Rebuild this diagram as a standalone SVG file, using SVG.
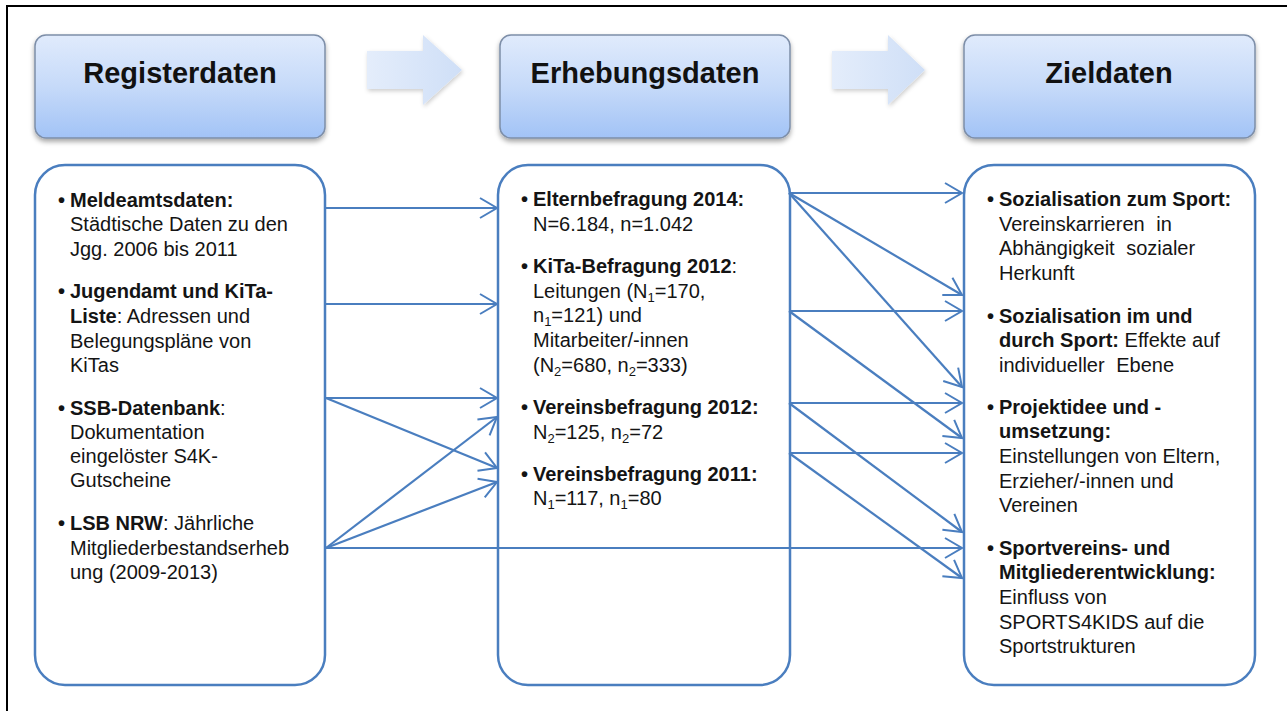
<svg xmlns="http://www.w3.org/2000/svg" width="1287" height="711" viewBox="0 0 1287 711">
<defs>
<linearGradient id="hg" x1="0" y1="0" x2="0" y2="1">
<stop offset="0" stop-color="#e0ebfc"/>
<stop offset="0.5" stop-color="#c6daf9"/>
<stop offset="1" stop-color="#a2c3f6"/>
</linearGradient>
<linearGradient id="ag" x1="0" y1="0" x2="1" y2="0">
<stop offset="0" stop-color="#e4edfb"/>
<stop offset="1" stop-color="#cfdff7"/>
</linearGradient>
<filter id="sh" x="-10%" y="-10%" width="120%" height="130%">
<feDropShadow dx="0" dy="3" stdDeviation="2.5" flood-color="#000" flood-opacity="0.35"/>
</filter>
<filter id="sh2" x="-10%" y="-10%" width="130%" height="130%">
<feDropShadow dx="1" dy="2" stdDeviation="2" flood-color="#000" flood-opacity="0.2"/>
</filter>
<marker id="ah" viewBox="-20 -12 22 24" refX="0" refY="0" markerWidth="22" markerHeight="24" markerUnits="userSpaceOnUse" orient="auto">
<path d="M-17,-10 L0,0 L-17,10" fill="none" stroke="#4a7ebf" stroke-width="2"/>
</marker>
</defs>
<style>
.hd{fill:url(#hg);stroke:#7d8ea8;stroke-width:1.5;filter:url(#sh)}
.ht{font-family:"Liberation Sans",Arial,sans-serif;font-weight:bold;font-size:29px;fill:#111;text-anchor:middle}
.ba{fill:url(#ag);filter:url(#sh2)}
.bx{fill:#fff;stroke:#4a7ebf;stroke-width:2.5}
.t{font-family:"Liberation Sans",Arial,sans-serif;font-size:20px;fill:#141414}
.b{font-weight:bold}
.cn line{stroke:#4a7ebf;stroke-width:2.2;marker-end:url(#ah)}
</style>
<rect x="0" y="0" width="1287" height="711" fill="#fff"/>
<rect x="7" y="6" width="1300" height="720" fill="none" stroke="#000" stroke-width="2"/>

<g id="head-registerdaten">
<rect class="hd" x="35" y="35" width="290" height="103" rx="11"/>
<text class="ht" x="180" y="83">Registerdaten</text>
</g>
<g id="flow-arrow-1">
<polygon class="ba" points="367,51 423,51 423,35 462,70 423,105 423,89 367,89"/>
</g>
<g id="head-erhebungsdaten">
<rect class="hd" x="500" y="35" width="290" height="103" rx="11"/>
<text class="ht" x="645" y="83">Erhebungsdaten</text>
</g>
<g id="flow-arrow-2">
<polygon class="ba" points="832,51 888,51 888,35 925,70 888,105 888,89 832,89"/>
</g>
<g id="head-zieldaten">
<rect class="hd" x="964" y="35" width="291" height="103" rx="11"/>
<text class="ht" x="1109" y="83">Zieldaten</text>
</g>

<g id="node-register">
<rect class="bx" x="35" y="165" width="290" height="520" rx="30"/>
<g class="t">
<text x="58" y="207" class="b">•</text>
<text x="70" y="207" class="b">Meldeamtsdaten:</text>
<text x="70" y="231">Städtische Daten zu den</text>
<text x="70" y="256">Jgg. 2006 bis 2011</text>
<text x="58" y="298" class="b">•</text>
<text x="70" y="298" class="b">Jugendamt und KiTa-</text>
<text x="70" y="323"><tspan class="b">Liste</tspan>: Adressen und</text>
<text x="70" y="348">Belegungspläne von</text>
<text x="70" y="372">KiTas</text>
<text x="58" y="415" class="b">•</text>
<text x="70" y="415"><tspan class="b">SSB-Datenbank</tspan>:</text>
<text x="70" y="439">Dokumentation</text>
<text x="70" y="463">eingelöster S4K-</text>
<text x="70" y="487">Gutscheine</text>
<text x="58" y="530" class="b">•</text>
<text x="70" y="530"><tspan class="b">LSB NRW</tspan>: Jährliche</text>
<text x="70" y="555">Mitgliederbestandserheb</text>
<text x="70" y="579">ung (2009-2013)</text>
</g>
</g>

<g id="node-erhebung">
<rect class="bx" x="498" y="165" width="292" height="520" rx="30"/>
<g class="t">
<text x="521" y="206" class="b">•</text>
<text x="533" y="206" class="b">Elternbefragung 2014:</text>
<text x="533" y="231">N=6.184, n=1.042</text>
<text x="521" y="273" class="b">•</text>
<text x="533" y="273"><tspan class="b">KiTa-Befragung 2012</tspan>:</text>
<text x="533" y="298">Leitungen (N<tspan dy="4" font-size="13">1</tspan><tspan dy="-4">=170,</tspan></text>
<text x="533" y="322">n<tspan dy="4" font-size="13">1</tspan><tspan dy="-4">=121) und</tspan></text>
<text x="533" y="347">Mitarbeiter/-innen</text>
<text x="533" y="372">(N<tspan dy="4" font-size="13">2</tspan><tspan dy="-4">=680, n</tspan><tspan dy="4" font-size="13">2</tspan><tspan dy="-4">=333)</tspan></text>
<text x="521" y="414" class="b">•</text>
<text x="533" y="414" class="b">Vereinsbefragung 2012:</text>
<text x="533" y="439">N<tspan dy="4" font-size="13">2</tspan><tspan dy="-4">=125, n</tspan><tspan dy="4" font-size="13">2</tspan><tspan dy="-4">=72</tspan></text>
<text x="521" y="481" class="b">•</text>
<text x="533" y="481" class="b">Vereinsbefragung 2011:</text>
<text x="533" y="505">N<tspan dy="4" font-size="13">1</tspan><tspan dy="-4">=117, n</tspan><tspan dy="4" font-size="13">1</tspan><tspan dy="-4">=80</tspan></text>
</g>
</g>

<g id="node-ziel">
<rect class="bx" x="964" y="165" width="291" height="520" rx="30"/>
<g class="t">
<text x="987" y="206" class="b">•</text>
<text x="999" y="206" class="b">Sozialisation zum Sport:</text>
<text x="999" y="231" word-spacing="6">Vereinskarrieren in</text>
<text x="999" y="255" word-spacing="6">Abhängigkeit sozialer</text>
<text x="999" y="280">Herkunft</text>
<text x="987" y="323" class="b">•</text>
<text x="999" y="323" class="b">Sozialisation im und</text>
<text x="999" y="347"><tspan class="b">durch Sport:</tspan> Effekte auf</text>
<text x="999" y="372" word-spacing="6">individueller Ebene</text>
<text x="987" y="414" class="b">•</text>
<text x="999" y="414" class="b">Projektidee und -</text>
<text x="999" y="438" class="b">umsetzung:</text>
<text x="999" y="463">Einstellungen von Eltern,</text>
<text x="999" y="488">Erzieher/-innen und</text>
<text x="999" y="512">Vereinen</text>
<text x="987" y="555" class="b">•</text>
<text x="999" y="555" class="b">Sportvereins- und</text>
<text x="999" y="579" class="b">Mitgliederentwicklung:</text>
<text x="999" y="604">Einfluss von</text>
<text x="999" y="629">SPORTS4KIDS auf die</text>
<text x="999" y="653">Sportstrukturen</text>
</g>
</g>

<g id="connectors" class="cn">
<line x1="326" y1="208" x2="497" y2="208"/>
<line x1="326" y1="304" x2="497" y2="304"/>
<line x1="326" y1="398" x2="497" y2="398"/>
<line x1="326" y1="398" x2="497" y2="468"/>
<line x1="326" y1="548" x2="497" y2="417"/>
<line x1="326" y1="548" x2="497" y2="482"/>
<line x1="326" y1="548" x2="962" y2="548"/>
<line x1="789" y1="193" x2="962" y2="193"/>
<line x1="789" y1="193" x2="962" y2="295"/>
<line x1="789" y1="193" x2="962" y2="387"/>
<line x1="789" y1="311" x2="962" y2="311"/>
<line x1="789" y1="311" x2="962" y2="438"/>
<line x1="789" y1="403" x2="962" y2="403"/>
<line x1="789" y1="403" x2="962" y2="532"/>
<line x1="789" y1="453" x2="962" y2="453"/>
<line x1="789" y1="453" x2="962" y2="578"/>
</g>
</svg>
